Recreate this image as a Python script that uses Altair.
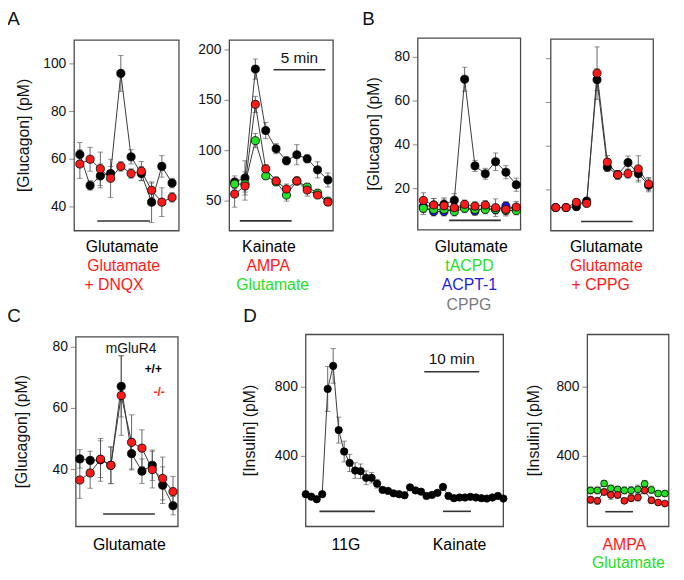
import altair as alt
import pandas as pd

FONT = "Liberation Sans"
BLACK, RED, GREEN, BLUE, GRAY = "#000000", "#ff1a1a", "#26e026", "#1c1ce8", "#7a7a7a"

# ---------------- data ----------------
# Panel A left: glucagon (pM), 1-min fractions
A1_X = list(range(1, 11))
A1_GLU = [62, 49, 53, 54, 96, 61, 54, 42, 57, 50]
A1_GLU_ERR = [5, 2, 5, 3, 7.5, 3, 3, 8.5, 4.5, 2]
A1_DNQX = [58, 60, 56, 52, 57, 54, 55, 47, 42, 44]
A1_DNQX_ERR = [6, 5, 7, 8, 2, 2, 4, 3, 6, 2]
A1_TICKS = [40, 60, 80, 100]

# Panel A right
A2_X = list(range(1, 11))
A2_KAIN = [69, 73, 181, 120, 102, 90, 96, 92, 81, 71]
A2_KAIN_ERR = [6, 17, 10, 8, 5, 4, 10, 4, 8, 7]
A2_AMPA = [57, 65, 146, 82, 70, 62, 70, 61, 56, 49]
A2_AMPA_ERR = [13, 14, 8, 4, 4, 5, 4, 6, 3, 3]
A2_GLU = [67, 67, 110, 75, 69, 56, 70, 64, 58, 50]
A2_GLU_ERR = [5, 8, 7, 3, 3, 6, 3, 3, 3, 2]
A2_TICKS = [50, 100, 150, 200]

# Panel B left
B1_X = list(range(1, 11))
B1_GLU = [11.7, 12.5, 12.8, 14.7, 70, 30.4, 26.8, 32.3, 27.5, 21.8]
B1_GLU_ERR = [3.5, 3, 3, 3, 5.5, 2.5, 2.5, 4, 3, 3]
B1_ACPT = [11.5, 9.5, 9.5, 11, 11.5, 9.8, 11, 10.5, 12, 11]
B1_ACPT_ERR = [2, 2, 2, 2, 2, 2, 2, 2, 2, 2]
B1_TACPD = [11, 10.5, 10.5, 9.5, 11, 10.5, 10.5, 10.5, 10, 10]
B1_TACPD_ERR = [2, 2, 2, 2, 2, 2, 2, 2, 2, 2]
B1_CPPG = [14.6, 12.5, 12.2, 11.3, 12.8, 12, 12.5, 11.3, 10.5, 11.6]
B1_CPPG_ERR = [3.5, 3, 3, 2, 2, 2, 2, 4, 3, 2.5]
B_TICKS = [20, 40, 60, 80]

# Panel B right
B2_X = list(range(1, 11))
B2_GLU = [11.9, 11.9, 12.3, 14.9, 70.4, 30.4, 26.9, 32.5, 27.4, 22.1]
B2_GLU_ERR = [1, 1, 1, 1.5, 5, 2, 2, 3, 3, 3]
B2_CPPG = [11.9, 11.9, 14.3, 13.8, 73.4, 32.7, 26.9, 27.4, 29.6, 22.7]
B2_CPPG_ERR = [1, 1, 1.5, 1.5, 12, 3, 2, 2, 6, 3]

# Panel C: mGluR4 +/+ and -/-
C_X = list(range(1, 11))
C_WT = [43.5, 43, 43.2, 41.4, 67.2, 45.2, 39.5, 41.4, 34.9, 28.2]
C_WT_ERR = [3, 3, 7, 6, 10, 5, 4, 5, 6, 3]
C_KO = [36.6, 38.9, 43.4, 41.4, 64.2, 48.9, 47, 40, 37.1, 32.8]
C_KO_ERR = [6, 5, 6, 6, 13, 9, 6, 6, 7, 5]
C_TICKS = [40, 60, 80]

# Panel D left: insulin (pM)
D1_X = list(range(1, 38))
D1_INS = [181, 167, 152, 181, 790, 923, 552, 428, 362, 318, 314, 276, 276, 242,
          206, 200, 186, 181, 175, 221, 203, 196, 171, 177, 189, 223, 171, 158,
          162, 162, 166, 162, 158, 156, 162, 171, 156]
D1_ERR = [10, 10, 10, 10, 130, 100, 75, 60, 50, 45, 42, 40, 30, 25, 15, 12, 10,
          10, 10, 10, 10, 10, 10, 10, 10, 10, 10, 10, 10, 10, 10, 10, 10, 10, 10,
          10, 10]
D_TICKS = [400, 800]

# Panel D right
D2_X = list(range(1, 13))
D2_GLU = [203, 203, 243, 215, 209, 203, 203, 209, 241, 206, 185, 185]
D2_GLU_ERR = [20, 20, 18, 18, 18, 20, 22, 25, 20, 22, 15, 15]
D2_AMPA = [149, 143, 194, 177, 177, 143, 158, 162, 203, 146, 133, 127]
D2_AMPA_ERR = [20, 20, 18, 25, 20, 15, 18, 20, 20, 18, 12, 12]


def long_df(xs, groups):
    rows = []
    for order, (vals, errs, color) in enumerate(groups):
        for x, v, e in zip(xs, vals, errs):
            rows.append(dict(x=x, v=v, lo=v - e, hi=v + e, s=order, col=color))
    return pd.DataFrame(rows)


def panel(df, xdom, ydom, xr, yr, yticks, show_labels, ytitle, title_px,
          stim, ptsize, scale_text=None):
    xsc = alt.Scale(domain=xdom, range=xr, nice=False, zero=False)
    ysc = alt.Scale(domain=ydom, range=yr, nice=False, zero=False)

    def X(f):
        return alt.X(f, type="quantitative", scale=xsc, axis=None)

    def Y(f):
        return alt.Y(f, type="quantitative", scale=ysc, axis=None)

    frame_df = pd.DataFrame({"x0": [xdom[0]], "x1": [xdom[1]],
                             "y0": [ydom[0]], "y1": [ydom[1]]})
    frame = alt.Chart(frame_df).mark_rect(
        fillOpacity=0, stroke="#4a4a4a", strokeWidth=1.3
    ).encode(x=X("x0"), x2="x1", y=Y("y0"), y2="y1")

    tick_df = pd.DataFrame({"v": yticks, "x": [xdom[0]] * len(yticks),
                            "lab": [str(t) for t in yticks]})
    ticks = alt.Chart(tick_df).mark_tick(
        orient="horizontal", size=5, thickness=1, color="#555", xOffset=-2.5
    ).encode(x=X("x"), y=Y("v"))

    stim_df = pd.DataFrame(stim, columns=["xs", "xe", "y"])
    bars = alt.Chart(stim_df).mark_rule(color="#333", strokeWidth=1.6).encode(
        x=X("xs"), x2="xe", y=Y("y"))

    lines = alt.Chart(df).mark_line(color="#3a3a3a", strokeWidth=1).encode(
        x=X("x"), y=Y("v"), detail="s:N", order="x:Q")
    err = alt.Chart(df).mark_rule(color="#555", strokeWidth=0.9).encode(
        x=X("x"), y=Y("lo"), y2="hi")
    cap_lo = alt.Chart(df).mark_tick(orient="horizontal", size=5.5, thickness=0.9,
                                     color="#555").encode(x=X("x"), y=Y("lo"))
    cap_hi = alt.Chart(df).mark_tick(orient="horizontal", size=5.5, thickness=0.9,
                                     color="#555").encode(x=X("x"), y=Y("hi"))
    pts = alt.Chart(df).mark_circle(size=ptsize, opacity=1, stroke="#000",
                                    strokeWidth=0.8).encode(
        x=X("x"), y=Y("v"), color=alt.Color("col:N", scale=None))

    layers = [frame, ticks, bars, err, cap_lo, cap_hi, lines, pts]
    if show_labels:
        labels = alt.Chart(tick_df).mark_text(
            align="right", baseline="middle", dx=-8, font=FONT, fontSize=14,
            color="#111").encode(x=X("x"), y=Y("v"), text="lab:N")
        layers.append(labels)
    if ytitle:
        tdf = pd.DataFrame({"t": [ytitle]})
        layers.append(alt.Chart(tdf).mark_text(
            angle=270, align="center", baseline="middle", font=FONT,
            fontSize=16, color="#111").encode(
            x=alt.value(title_px), y=alt.value((yr[0] + yr[1]) / 2),
            text="t:N"))
    if scale_text is not None:
        sdf = pd.DataFrame([scale_text], columns=["xs", "xe", "y", "ty", "t"])
        sdf["xm"] = (sdf["xs"] + sdf["xe"]) / 2
        layers.append(alt.Chart(sdf).mark_rule(color="#333", strokeWidth=1.6)
                      .encode(x=X("xs"), x2="xe", y=Y("y")))
        layers.append(alt.Chart(sdf).mark_text(font=FONT, fontSize=15.5,
                                               color="#111", baseline="middle")
                      .encode(x=X("xm"), y=Y("ty"), text="t:N"))
    return alt.layer(*layers)


pA1 = panel(long_df(A1_X, [(A1_GLU, A1_GLU_ERR, BLACK),
                           (A1_DNQX, A1_DNQX_ERR, RED)]),
            [0.45, 10.67], [30, 110], [67, 173], [222, 29],
            A1_TICKS, True, "[Glucagon] (pM)", 16,
            [(2.7, 7.85, 34.1)], 68)

pA2 = panel(long_df(A2_X, [(A2_KAIN, A2_KAIN_ERR, BLACK),
                           (A2_GLU, A2_GLU_ERR, GREEN),
                           (A2_AMPA, A2_AMPA_ERR, RED)]),
            [0.49, 10.5], [20.6, 209.8], [224, 329], [222, 29],
            A2_TICKS, True, "", 0,
            [(1.5, 6.5, 30.4)], 66, scale_text=(4.75, 9.75, 180.4, 192, "5 min"))

pB1 = panel(long_df(B1_X, [(B1_GLU, B1_GLU_ERR, BLACK),
                           (B1_ACPT, B1_ACPT_ERR, BLUE),
                           (B1_TACPD, B1_TACPD_ERR, GREEN),
                           (B1_CPPG, B1_CPPG_ERR, RED)]),
            [0.46, 10.42], [1.2, 88.8], [414.7, 518.7], [221, 27],
            B_TICKS, True, "[Glucagon] (pM)", 370.5,
            [(3.5, 8.5, 5.5)], 66)

pB2 = panel(long_df(B2_X, [(B2_GLU, B2_GLU_ERR, BLACK),
                           (B2_CPPG, B2_CPPG_ERR, RED)]),
            [0.52, 10.45], [1.3, 89], [549.3, 653], [222, 28],
            B_TICKS, False, "", 0,
            [(3.45, 8.45, 5.5)], 66)

pC = panel(long_df(C_X, [(C_WT, C_WT_ERR, BLACK),
                         (C_KO, C_KO_ERR, RED)]),
           [0.62, 10.48], [21.4, 83.4], [68.7, 172], [521.3, 329.3],
           C_TICKS, True, "[Glucagon] (pM)", 14.5,
           [(3.25, 8.25, 25.5)], 68)

pD1 = panel(long_df(D1_X, [(D1_INS, D1_ERR, BLACK)]),
            [1, 37], [-5.7, 1104.6], [301.3, 501.3], [521.3, 327],
            D_TICKS, True, "[Insulin] (pM)", 245,
            [(3.5, 13.6, 82), (26.0, 31.1, 82)], 55,
            scale_text=(22.6, 32.6, 889, 963, "10 min"))

pD2 = panel(long_df(D2_X, [(D2_GLU, D2_GLU_ERR, GREEN),
                           (D2_AMPA, D2_AMPA_ERR, RED)]),
            [0.52, 12.58], [-5.7, 1104.6], [586.3, 668.7], [521.3, 327],
            D_TICKS, True, "[Insulin] (pM)", 532,
            [(3.17, 7.28, 80)], 48)

# ---------------- annotations (text) ----------------
LETTERS = ["A", "B", "C", "D"]
letter_pos = [(5.5, 7.5), (364.8, 7.5), (6.2, 308), (245, 308.5)]
letters = pd.DataFrame({"t": LETTERS,
                        "px": [p[0] for p in letter_pos],
                        "py": [p[1] for p in letter_pos]})

COND_TEXT = ["Glutamate", "Glutamate", "+ DNQX",
             "Kainate", "AMPA", "Glutamate",
             "Glutamate", "tACPD", "ACPT-1", "CPPG",
             "Glutamate", "Glutamate", "+ CPPG",
             "Glutamate", "11G", "Kainate", "AMPA", "Glutamate"]
COND_COLOR = [BLACK, RED, RED,
              BLACK, RED, GREEN,
              BLACK, GREEN, BLUE, GRAY,
              BLACK, RED, RED,
              BLACK, BLACK, BLACK, RED, GREEN]
cond_pos = [(115.5, 238), (117, 257.5), (107.3, 277),
            (264, 238), (263.3, 257.5), (267.8, 277),
            (468.8, 238), (467, 257.5), (467, 277), (466.5, 297),
            (605.5, 238), (605.5, 257.5), (599.8, 277),
            (122.8, 540), (342, 540), (457, 540), (623.7, 540), (627.8, 558.7)]
cond = pd.DataFrame({"t": COND_TEXT, "col": COND_COLOR,
                     "px": [p[0] for p in cond_pos],
                     "py": [p[1] for p in cond_pos]})

GENO_TEXT = ["+/+", "-/-"]
GENO_COLOR = [BLACK, RED]
geno = pd.DataFrame({"t": GENO_TEXT, "col": GENO_COLOR,
                     "px": [147, 153], "py": [362, 385.3]})
mg = pd.DataFrame({"t": ["mGluR4"], "px": [124.5], "py": [342]})

PX = alt.X("px:Q", scale=None, axis=None)
PY = alt.Y("py:Q", scale=None, axis=None)

t_letters = alt.Chart(letters).mark_text(font=FONT, fontSize=19, color="#111",
                                         baseline="middle").encode(
    x=PX, y=PY, text="t:N")
t_cond = alt.Chart(cond).mark_text(font=FONT, fontSize=16,
                                   baseline="middle").encode(
    x=PX, y=PY, text="t:N", color=alt.Color("col:N", scale=None))
t_geno = alt.Chart(geno).mark_text(font=FONT, fontSize=12, fontWeight="bold",
                                   baseline="middle").encode(
    x=PX, y=PY, text="t:N", color=alt.Color("col:N", scale=None))
t_mg = alt.Chart(mg).mark_text(font=FONT, fontSize=14, color="#111",
                               baseline="middle").encode(x=PX, y=PY, text="t:N")

chart = alt.layer(
    pA1, pA2, pB1, pB2, pC, pD1, pD2, t_letters, t_cond, t_geno, t_mg
).resolve_scale(
    x="independent", y="independent"
).properties(
    width=676, height=572, padding=0,
    autosize=alt.AutoSizeParams(type="none"),
    background="white",
).configure_view(strokeWidth=0)

chart.save("out.html", embed_options={"renderer": "svg", "actions": False})
